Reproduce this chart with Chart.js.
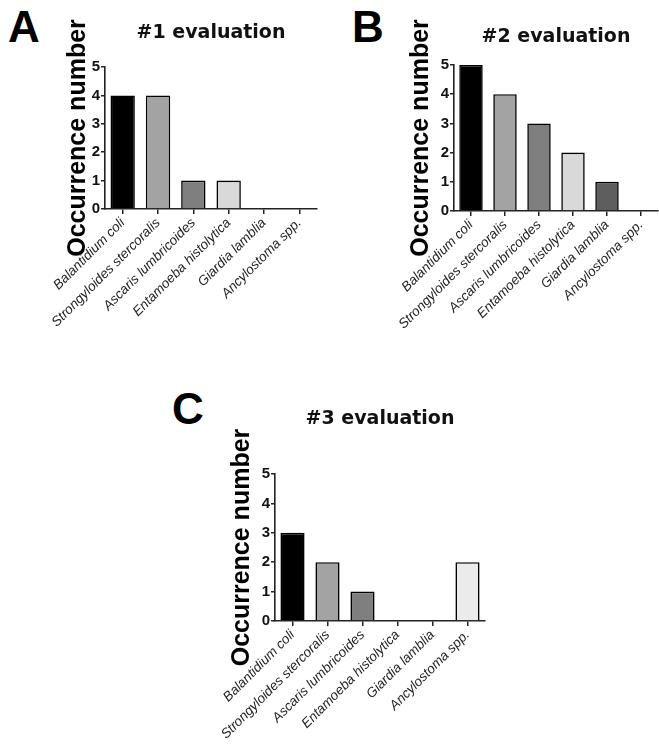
<!DOCTYPE html>
<html>
<head>
<meta charset="utf-8">
<script src="https://cdn.jsdelivr.net/npm/chart.js@4"></script>
<style>
body { margin: 0; background: #fff; width: 659px; height: 754px; position: relative; overflow: hidden; }
canvas { position: absolute; }
.panel { position: absolute; font: bold 44px "Liberation Sans", Arial, sans-serif; color: #000; line-height: 1; }
</style>
</head>
<body>
<div class="panel" style="left:8px;top:5px">A</div>
<div class="panel" style="left:352px;top:5px">B</div>
<div class="panel" style="left:172px;top:387px">C</div>
<canvas id="chartA" width="290" height="335" style="left:40px;top:0px"></canvas>
<canvas id="chartB" width="274" height="340" style="left:385px;top:0px"></canvas>
<canvas id="chartC" width="300" height="374" style="left:200px;top:380px"></canvas>
<script>
// Parasite species on the x axis
const categories = ['Balantidium coli', 'Strongyloides stercoralis', 'Ascaris lumbricoides',
    'Entamoeba histolytica', 'Giardia lamblia', 'Ancylostoma spp.'];

// Occurrence numbers per evaluation
const eval1 = [4, 4, 1, 1, 0, 0];
const eval2 = [5, 4, 3, 2, 1, 0];
const eval3 = [3, 2, 1, 0, 0, 2];

const yMin = 0;
const yMax = 5;
const yStep = 1;

const barColors = ['#000000', '#a3a3a3', '#7f7f7f', '#d9d9d9', '#5e5e5e', '#ebebeb'];

const axisColor = '#222';

// box: canvas rect and wanted chart area, all in page pixels
function makeChart(id, title, values, box) {
    const yScaleWidth = box.areaL - box.left;
    const padRight = box.left + box.width - box.areaR;
    const xScaleHeight = box.top + box.height - box.areaB;
    const titlePadTop = box.titleY - box.top - 11.4;
    const titlePadBottom = box.areaT - box.top - titlePadTop - 22.8;
    const yTitlePad = box.yTitleX - box.left - 15;

    return new Chart(document.getElementById(id).getContext('2d'), {
        type: 'bar',
        data: {
            labels: categories,
            datasets: [{
                data: values,
                backgroundColor: barColors,
                borderColor: '#000',
                borderWidth: ctx => (ctx.raw === 0 ? 0 : 1.6),
                borderSkipped: 'start',
                categoryPercentage: 1,
                barPercentage: 0.69
            }]
        },
        options: {
            responsive: false,
            animation: false,
            devicePixelRatio: 1,
            layout: { padding: { left: 0, right: padRight, top: 0, bottom: 0 } },
            plugins: {
                legend: { display: false },
                tooltip: { enabled: false },
                title: {
                    display: true,
                    text: title,
                    fullSize: false,
                    color: '#111',
                    font: { family: '"DejaVu Sans"', size: 19, weight: 'bold' },
                    padding: { top: titlePadTop, bottom: titlePadBottom }
                }
            },
            scales: {
                x: {
                    offset: true,
                    afterFit: scale => { scale.height = xScaleHeight; },
                    grid: {
                        offset: false,
                        drawOnChartArea: false,
                        drawTicks: true,
                        tickLength: 5,
                        color: axisColor,
                        lineWidth: 1.5
                    },
                    border: { display: true, color: axisColor, width: 1.6 },
                    ticks: {
                        autoSkip: false,
                        minRotation: 45,
                        maxRotation: 45,
                        padding: 1,
                        color: '#222',
                        font: { family: '"Liberation Sans"', size: 13.5, style: 'italic' }
                    }
                },
                y: {
                    min: yMin,
                    max: yMax,
                    afterFit: scale => { scale.width = yScaleWidth; },
                    grid: {
                        drawOnChartArea: false,
                        drawTicks: true,
                        tickLength: 4,
                        color: axisColor,
                        lineWidth: 1.5
                    },
                    border: { display: true, color: axisColor, width: 1.6 },
                    ticks: {
                        stepSize: yStep,
                        padding: 1,
                        color: '#111',
                        font: { family: '"Liberation Sans"', size: 15, weight: 'bold' }
                    },
                    title: {
                        display: true,
                        text: 'Occurrence number',
                        color: '#000',
                        font: { family: '"Liberation Sans"', size: 25, weight: 'bold' },
                        padding: { top: yTitlePad, bottom: 0 }
                    }
                }
            }
        }
    });
}

makeChart('chartA', '#1 evaluation', eval1,
    { left: 40, top: 0, width: 290, height: 335, areaL: 105, areaR: 317, areaT: 67, areaB: 209, titleY: 33, yTitleX: 78 });
makeChart('chartB', '#2 evaluation', eval2,
    { left: 385, top: 0, width: 274, height: 340, areaL: 454, areaR: 658, areaT: 65, areaB: 211, titleY: 37, yTitleX: 421 });
makeChart('chartC', '#3 evaluation', eval3,
    { left: 200, top: 380, width: 300, height: 374, areaL: 275, areaR: 485, areaT: 474, areaB: 621, titleY: 419, yTitleX: 242 });
</script>
</body>
</html>
